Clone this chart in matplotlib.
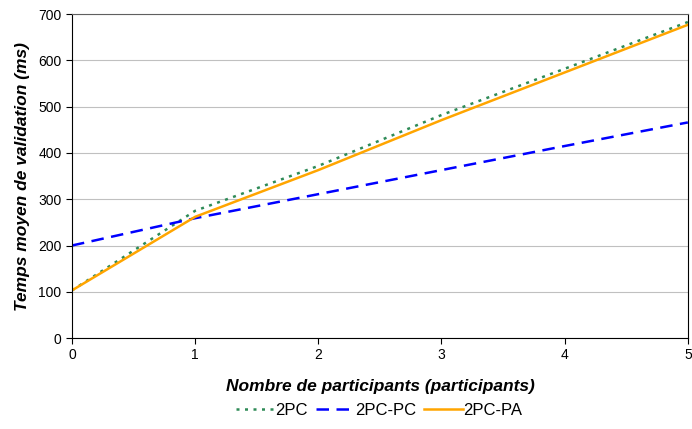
import matplotlib.pyplot as plt

plt.rcParams['font.family'] = ['Liberation Sans', 'DejaVu Sans']

# participants on the x axis
participants = [0, 1, 2, 3, 4, 5]

# mean validation time (ms) for each protocol
t_2pc = [103, 275, 372, 482, 582, 683]
t_2pc_pc = [200, 259, 311, 363, 415, 466]
t_2pc_pa = [103, 262, 363, 471, 574, 677]

fig = plt.figure(figsize=(6.92, 4.29), dpi=100)
ax = fig.add_axes([0.104, 0.212, 0.890, 0.755])

ax.plot(participants, t_2pc, color='#2E8B57', linestyle=(0, (1.2, 2.2)), linewidth=1.8, label='2PC')
ax.plot(participants, t_2pc_pc, color='#0000FF', linestyle=(0, (5, 3)), linewidth=1.8, label='2PC-PC')
ax.plot(participants, t_2pc_pa, color='#FFA500', linestyle='-', linewidth=1.8, label='2PC-PA')

ax.set_xlim(0, 5)
ax.set_ylim(0, 700)
ax.set_xticks(participants)
ax.set_yticks(range(0, 701, 100))
ax.yaxis.grid(True, color='#C0C0C0', linewidth=0.8)
ax.set_axisbelow(True)

ax.spines['top'].set_color('#606060')
ax.spines['left'].set_color('black')
ax.spines['bottom'].set_color('black')
ax.spines['right'].set_color('black')
ax.tick_params(direction='out', length=4, labelsize=10)

ax.set_xlabel('Nombre de participants (participants)', fontsize=12.5,
              fontweight='bold', fontstyle='italic', labelpad=12)
ax.set_ylabel('Temps moyen de validation (ms)', fontsize=12.5,
              fontweight='bold', fontstyle='italic', labelpad=6)

fig.legend(loc='center', bbox_to_anchor=(0.548, 0.044), ncol=3, frameon=False,
           fontsize=12, handlelength=2.3, handletextpad=0.05, columnspacing=0.5)

fig.savefig('out.png', dpi=100)
